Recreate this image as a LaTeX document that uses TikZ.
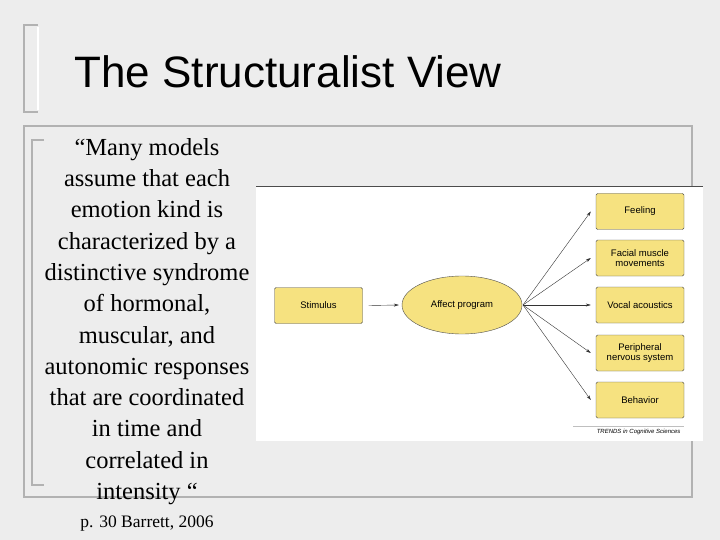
\documentclass[tikz,border=0pt]{standalone}
\usepackage{fontspec}
\setmainfont{Liberation Serif}
\newfontfamily\arial{Liberation Sans}
\usetikzlibrary{shapes.geometric,arrows.meta}
\begin{document}
\begin{tikzpicture}[x=1pt,y=-1pt,
  ybox/.style={draw=black!70,fill=ylw,rounded corners=1.5pt,minimum width=88pt,minimum height=36pt,align=center,font=\arial\fontsize{9.5}{10.5}\selectfont,inner sep=1pt},
  arr/.style={-{Stealth[length=5pt,width=3pt]},black!80,thin},
  deco/.style={draw=gray!60,line width=2pt}]
\definecolor{ylw}{RGB}{246,226,128}
\useasboundingbox (0,0) rectangle (720,540);
\fill[gray!14] (0,0) rectangle (720,540);
% decorations
\draw[deco] (38,25) -- (24,25) -- (24,112) -- (38,112);
\draw[deco,draw=white] (38,27) -- (38,110);
\draw[deco] (24,126) -- (692,126) -- (692,497) -- (24,497) -- cycle;
\draw[deco] (44,140) -- (32,140) -- (32,485) -- (44,485);
\node[anchor=west,font=\arial\fontsize{44}{48}\selectfont] (title) at (71,72) {The Structuralist View};
% panel
\fill[white] (256,186) rectangle (703,441);
\draw[black!70,thin] (256,186) -- (703,186);
\node[ybox] (stim) at (318.5,305.5) {Stimulus};
\node[ellipse,draw=black!70,fill=ylw,minimum width=120pt,minimum height=58pt,font=\arial\fontsize{9.5}{10.5}\selectfont] (aff) at (462,305) {Affect program};
\node[ybox] (f1) at (640,211.5) {Feeling};
\node[ybox] (f2) at (640,258) {Facial muscle\\movements};
\node[ybox] (f3) at (640,305) {Vocal acoustics};
\node[ybox] (f4) at (640,353) {Peripheral\\nervous system};
\node[ybox] (f5) at (640,400) {Behavior};
\coordinate (src) at (523,305);
\draw[arr] (stim.east) ++(6,0) -- ([xshift=-3pt]aff.west);
\foreach \t in {f1,f2,f3,f4,f5} \draw[arr] (src) -- ([xshift=-5pt]\t.west);
\node[font=\arial\itshape\fontsize{6}{7}\selectfont,anchor=east] (tr) at (684,432) {TRENDS in Cognitive Sciences};
\draw[gray!50,very thin] (573,426) -- (684,426);
% quote
\node[align=center,font=\fontsize{24.5}{31.3}\selectfont,anchor=north,inner sep=0pt] (q) at (147,138) {``Many models\\assume that each\\emotion kind is\\characterized by a\\distinctive syndrome\\of hormonal,\\muscular, and\\autonomic responses\\that are coordinated\\in time and\\correlated in\\intensity ``};
\node[font=\fontsize{17.5}{19}\selectfont] (ref) at (147,524) {p. 30 Barrett, 2006};
\end{tikzpicture}
\end{document}
